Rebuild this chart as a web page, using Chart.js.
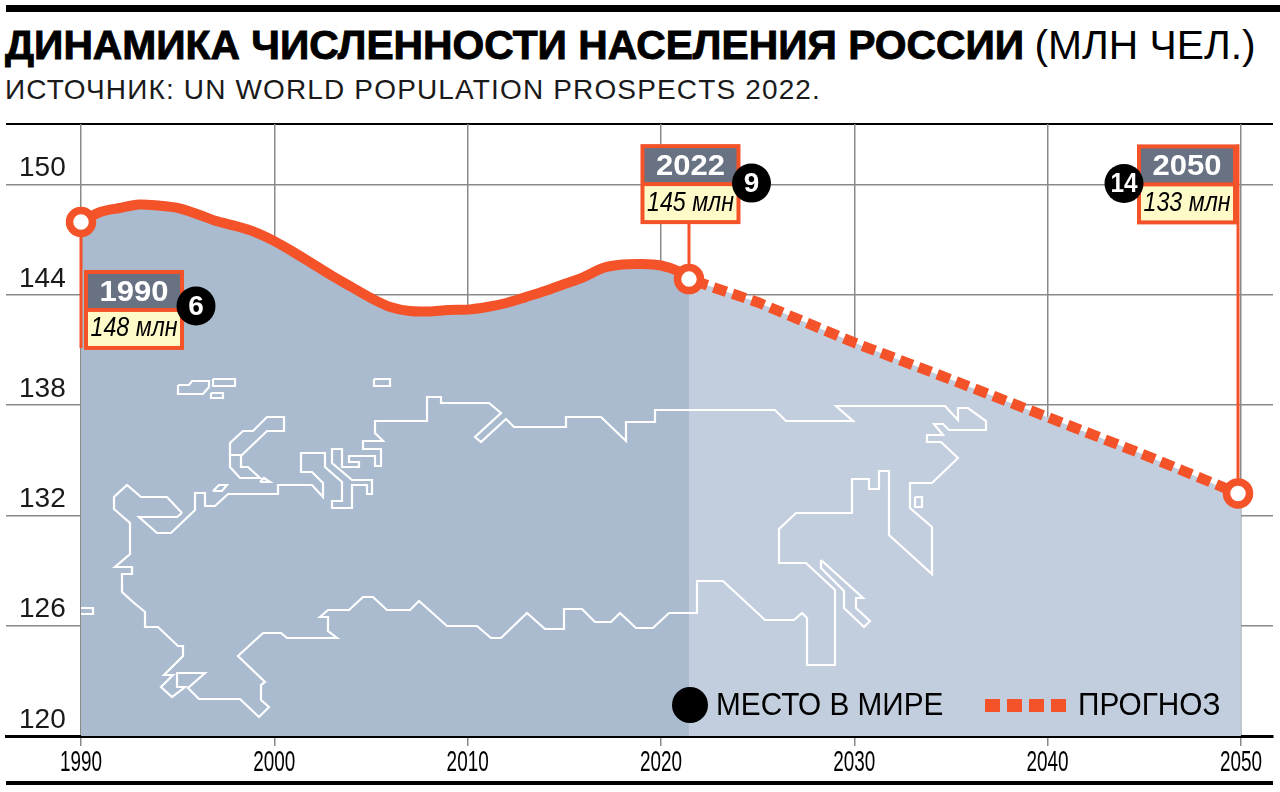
<!DOCTYPE html>
<html lang="ru">
<head>
<meta charset="utf-8">
<title>Динамика численности населения России</title>
<script src="https://cdn.jsdelivr.net/npm/chart.js@4"></script>
<style>
  html, body { margin: 0; background: #fff; }
  body { position: relative; width: 1280px; height: 792px; overflow: hidden; font-family: "Liberation Sans", sans-serif; color: #000; }
  .rule { position: absolute; background: #000; }
  #headline { position: absolute; left: 5px; top: 21px; margin: 0; font-size: 40.8px; line-height: 48px; font-weight: 400; white-space: nowrap; }
  #headline b { font-weight: 700; -webkit-text-stroke: 0.9px #000; margin-right: -1px; }
  #source { position: absolute; left: 5px; top: 73px; margin: 0; font-size: 28px; line-height: 34px; letter-spacing: 1.15px; white-space: nowrap; color: #1a1a1a; }
  canvas { position: absolute; left: 0; top: 0; }
</style>
</head>
<body>
<div class="rule" style="left:6px;right:0;top:5px;height:7px"></div>
<h1 id="headline"><b>ДИНАМИКА ЧИСЛЕННОСТИ НАСЕЛЕНИЯ РОССИИ</b> (МЛН ЧЕЛ.)</h1>
<p id="source">ИСТОЧНИК: UN WORLD POPULATION PROSPECTS 2022.</p>
<div class="rule" style="left:6px;width:1267px;top:123px;height:2px"></div>
<div class="rule" style="left:6px;width:1267px;top:781px;height:4px"></div>
<canvas id="chart" width="1280" height="792"></canvas>

<script>
// Values
const xTicks = [1990, 2000, 2010, 2020, 2030, 2040, 2050];
const yTicks = [120, 126, 132, 138, 144, 150];

const pastYears = [1990, 1991, 1992, 1993, 1994, 1995, 1996, 1997, 1998, 1999, 2000, 2001, 2002, 2003, 2004, 2005, 2006,
  2007, 2008, 2009, 2010, 2011, 2012, 2013, 2014, 2015, 2016, 2017, 2018, 2019, 2020, 2021, 2021.45];
const pastValues = [147.97, 148.51, 148.73, 148.92, 148.86, 148.73, 148.4, 148.02, 147.75, 147.42, 146.93, 146.33, 145.68,
  145.03, 144.43, 143.83, 143.34, 143.12, 143.1, 143.18, 143.2, 143.34, 143.56, 143.88, 144.21, 144.59, 144.97,
  145.46, 145.65, 145.68, 145.6, 145.25, 144.86];

const forecastYears = [2021.45, 2025, 2030, 2035, 2040, 2045, 2049.85];
const forecastValues = [144.86, 143.6, 141.4, 139.4, 137.35, 135.3, 133.2];
const forecastAreaYears = [2021.45, 2025, 2030, 2035, 2040, 2045, 2050];
const forecastAreaValues = [144.86, 143.6, 141.4, 139.4, 137.35, 135.3, 133.1];

const calloutYears = [1990, 2021.45, 2049.85];
const calloutValues = [147.97, 144.86, 133.2];
const calloutTitles = ['1990', '2022', '2050'];
const calloutTexts = ['148 млн', '145 млн', '133 млн'];
const calloutRanks = ['6', '9', '14'];
const leaderEnds = [141.1, 147.86, 152.2];

// Map outline, in the units of the hidden map axes
const mapMainland = [[182,513],[167,497],[141,497],[127,485],[114,497],[114,509],[130,523],[130,554],[115,567],[132,567],[132,574],[122,574],[122,592],[133,602],[145,612],[145,627],[158,627],[178,646],[183,646],[183,656],[164,675],[173,675],[161,687],[172,697],[185,687],[177,687],[177,673],[205,673],[188,688],[199,699],[240,699],[259,717],[269,707],[261,700],[261,685],[265,682],[238,656],[263,633],[281,633],[287,638],[337,638],[328,631],[328,617],[320,617],[328,610],[349,610],[363,597],[373,597],[387,610],[410,610],[419,601],[447,626],[477,626],[491,638],[501,638],[527,613],[545,629],[564,629],[564,609],[582,609],[595,622],[611,622],[620,613],[636,628],[653,628],[669,613],[697,613],[697,581],[723,581],[765,620],[794,620],[802,613],[807,618],[807,665],[835,665],[835,590],[806,563],[779,563],[779,529],[796,513],[852,513],[852,479],[869,479],[869,489],[879,489],[879,471],[889,471],[889,535],[932,574],[932,527],[910,508],[910,483],[932,483],[958,458],[941,442],[927,442],[927,435],[943,435],[934,424],[943,424],[949,430],[986,430],[986,421],[968,408],[958,408],[958,420],[945,406],[836,406],[853,421],[786,421],[775,410],[655,410],[655,422],[626,422],[626,441],[601,417],[566,417],[566,427],[514,427],[506,419],[481,442],[475,437],[501,413],[489,403],[441,403],[441,397],[427,397],[427,421],[375,421],[375,433],[383,441],[363,441],[363,449],[381,449],[381,466],[375,466],[375,456],[349,456],[349,462],[359,462],[359,467],[342,467],[342,449],[332,449],[332,463],[352,480],[372,480],[372,494],[367,494],[367,485],[352,485],[352,508],[332,508],[332,501],[342,501],[342,482],[325,467],[325,453],[301,453],[301,472],[312,472],[323,483],[323,497],[312,485],[278,485],[278,494],[228,494],[215,506],[205,506],[205,493],[195,493],[195,510],[171,533],[157,533],[139,517],[177,517],[182,513]];
const mapNovayaZemlya = [[230,455],[230,443],[243,431],[253,431],[267,417],[284,417],[284,431],[267,431],[242,455],[230,455],[230,467],[240,478],[260,478],[248,467],[241,467],[241,455]];
const mapSakhalin = [[821,560],[863,598],[856,598],[856,608],[870,621],[864,627],[844,608],[844,591],[821,568],[821,560]];
const mapIslands = [
  [[260,482],[264,478],[270,482],[260,482]],
  [[213,491],[219,485],[227,485],[222,491],[213,491]],
  [[178,385],[189,385],[192,381],[209,381],[209,387],[203,394],[178,394],[178,385]],
  [[213,379],[235,379],[235,386],[213,386],[213,379]],
  [[211,393],[223,393],[223,398],[211,398],[211,393]],
  [[374,379],[390,379],[390,386],[374,386],[374,379]],
  [[81,608],[93,608],[93,614],[81,614]],
  [[915,497],[922,497],[922,507],[915,507],[915,497]]
];

const ORANGE = '#F4532A';
const SLATE = '#687283';
const CREAM = '#FFFBC9';
const GRID = '#8a8a8a';

const toPoints = (xs, ys) => xs.map((x, i) => ({ x, y: ys[i] }));

// all map shapes in one dataset, a null breaks the line between them
function mapPoints() {
  const shapes = [mapMainland, mapNovayaZemlya, mapSakhalin, ...mapIslands];
  const out = [];
  shapes.forEach(shape => {
    shape.forEach(p => out.push({ x: p[0], y: p[1] }));
    out.push({ x: null, y: null });
  });
  return out;
}

// box offset from its point, and rank circle offset from the box
const calloutBoxes = [
  { dx: 3, dy: 48, rankX: 112, rankY: 36 },
  { dx: -48.5, dy: -135, rankX: 111, rankY: 39 },
  { dx: -101, dy: -349, rankX: -13, rankY: 39 }
];

// no condensed face is installed, so narrow text is squeezed with a scale
function text(ctx, str, x, y, font, color, align, stretch) {
  ctx.save();
  ctx.font = font;
  ctx.fillStyle = color;
  ctx.textAlign = align || 'center';
  ctx.textBaseline = 'middle';
  ctx.translate(x, y);
  ctx.scale(stretch || 1, 1);
  ctx.fillText(str, 0, 0);
  ctx.restore();
}

const calloutPlugin = {
  id: 'callouts',
  afterDatasetsDraw(chart) {
    const ctx = chart.ctx;
    const sx = chart.scales.x, sy = chart.scales.y;

    // x tick labels
    xTicks.forEach(year => {
      text(ctx, String(year), sx.getPixelForValue(year), 763, '30px "Liberation Sans"', '#000', 'center', 0.63);
    });

    calloutYears.forEach((year, i) => {
      const b = calloutBoxes[i];
      const left = sx.getPixelForValue(year) + b.dx;
      const top = sy.getPixelForValue(calloutValues[i]) + b.dy;
      ctx.fillStyle = ORANGE;
      ctx.fillRect(left, top, 100, 80);
      ctx.fillStyle = SLATE;
      ctx.fillRect(left + 4, top + 4, 92, 34);
      ctx.fillStyle = CREAM;
      ctx.fillRect(left + 4, top + 42, 92, 34);
      text(ctx, calloutTitles[i], left + 50, top + 23, 'bold 29px "Liberation Sans"', '#fff', 'center', 1.07);
      text(ctx, calloutTexts[i], left + 50, top + 59, 'italic 27px "Liberation Sans"', '#000', 'center', 0.86);
      ctx.fillStyle = '#000';
      ctx.beginPath();
      ctx.arc(left + b.rankX, top + b.rankY, 19.5, 0, Math.PI * 2);
      ctx.fill();
      text(ctx, calloutRanks[i], left + b.rankX, top + b.rankY + 1, 'bold 28px "Liberation Sans"', '#fff', 'center', calloutRanks[i].length > 1 ? 0.87 : 1);
    });

    // legend
    ctx.fillStyle = '#000';
    ctx.beginPath();
    ctx.arc(690, 705, 18, 0, Math.PI * 2);
    ctx.fill();
    text(ctx, 'МЕСТО В МИРЕ', 716, 706, '31px "Liberation Sans"', '#000', 'left', 0.96);
    ctx.fillStyle = ORANGE;
    [985, 1007, 1029, 1051].forEach(x => ctx.fillRect(x, 699, 15, 13));
    text(ctx, 'ПРОГНОЗ', 1078, 706, '31px "Liberation Sans"', '#000', 'left', 0.96);
  }
};

new Chart(document.getElementById('chart'), {
  data: {
    datasets: [
      { type: 'scatter', order: 6, showLine: true, data: toPoints(forecastAreaYears, forecastAreaValues), borderWidth: 0, pointRadius: 0, fill: 'start', backgroundColor: '#C2CEDE' },
      { type: 'scatter', order: 5, showLine: true, data: toPoints(pastYears, pastValues), borderColor: ORANGE, borderWidth: 10, pointRadius: 0, tension: 0.3, fill: 'start', backgroundColor: '#AABBD0' },
      { type: 'scatter', order: 4, showLine: true, data: mapPoints(), xAxisID: 'mapX', yAxisID: 'mapY', borderColor: '#fff', borderWidth: 2.2, pointRadius: 0, spanGaps: false, borderJoinStyle: 'miter' },
      { type: 'scatter', order: 3, showLine: true, data: toPoints(forecastYears, forecastValues), borderColor: ORANGE, borderWidth: 10.5, borderDash: [13.5, 6.5], borderDashOffset: -6, pointRadius: 0 },
      ...calloutYears.map((year, i) => ({
        type: 'scatter', order: 2, showLine: true,
        data: [{ x: year, y: calloutValues[i] }, { x: year, y: leaderEnds[i] }],
        borderColor: ORANGE, borderWidth: 3, pointRadius: 0
      })),
      { type: 'scatter', order: 1, data: toPoints(calloutYears, calloutValues), pointRadius: 11.5, borderWidth: 7.5, borderColor: ORANGE, backgroundColor: '#fff', clip: false }
    ]
  },
  options: {
    responsive: false,
    animation: false,
    layout: { autoPadding: false, padding: { left: 6, right: 7, top: 124, bottom: 0 } },
    plugins: { legend: { display: false }, tooltip: { enabled: false }, title: { display: false } },
    scales: {
      x: {
        type: 'linear',
        min: 1986.12,
        max: 2051.66,
        afterBuildTicks: s => { s.ticks = xTicks.map(value => ({ value })); },
        afterFit: s => { s.height = 56; },
        grid: { color: GRID, lineWidth: 1.5, tickLength: 10, tickColor: GRID },
        border: { color: '#000', width: 3 },
        ticks: { display: false }
      },
      y: {
        type: 'linear',
        min: 120,
        max: 153.3,
        afterBuildTicks: s => { s.ticks = yTicks.map(value => ({ value })); },
        afterFit: s => { s.width = 0; },
        grid: { color: GRID, lineWidth: 1.5, drawTicks: false },
        border: { display: false },
        ticks: {
          mirror: true,
          padding: 13,
          labelOffset: -16,
          color: '#1a1a1a',
          font: { family: '"Liberation Sans"', size: 28 },
          callback: v => String(v)
        }
      },
      mapX: { type: 'linear', axis: 'x', display: false, min: 6, max: 1273 },
      mapY: { type: 'linear', axis: 'y', display: false, min: 124, max: 736, reverse: true }
    }
  },
  plugins: [calloutPlugin]
});
</script>
</body>
</html>
